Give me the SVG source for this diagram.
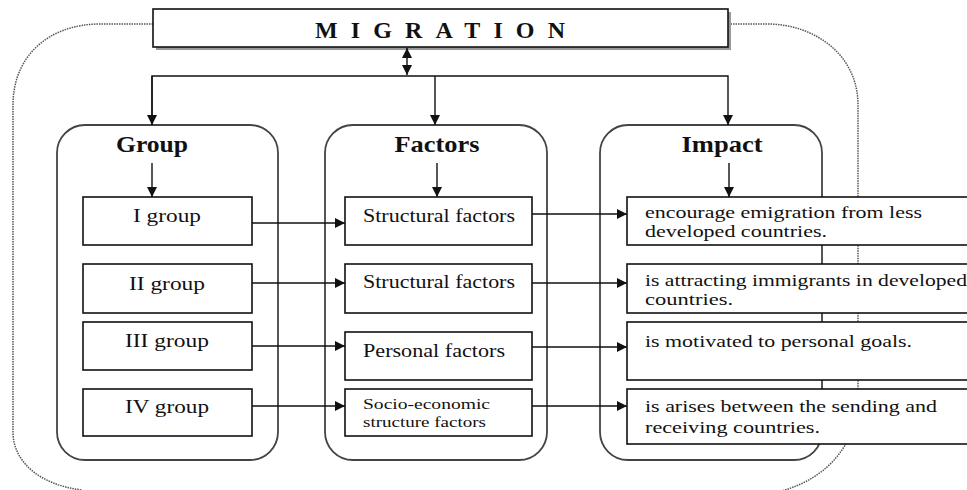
<svg xmlns="http://www.w3.org/2000/svg" width="967" height="490" viewBox="0 0 967 490">
<style>
  .outer { fill: none; stroke: #555; stroke-width: 1.5; stroke-dasharray: 1.5 1; }
  .cont { fill: #fff; stroke: #444; stroke-width: 1.8; }
  .box { fill: #fff; stroke: #111; stroke-width: 1.6; }
  .conn { fill: none; stroke: #111; stroke-width: 1.4; }
  .title { font-family: "Liberation Serif", "Times New Roman", serif; font-weight: bold; font-size: 24px; fill: #111; text-anchor: middle; }
  .lbl { font-family: "Liberation Serif", "Times New Roman", serif; font-size: 18px; fill: #111; }
  .imp { font-family: "Liberation Serif", "Times New Roman", serif; font-size: 16.5px; fill: #111; }
  .small { font-family: "Liberation Serif", "Times New Roman", serif; font-size: 15px; fill: #111; }
</style>
<defs>
  <marker id="ah" viewBox="0 0 10 10" refX="10" refY="5" markerWidth="10" markerHeight="10" markerUnits="userSpaceOnUse" orient="auto">
    <path d="M0,0 L10,5 L0,10 Z" fill="#111"/>
  </marker>
  <marker id="ahs" viewBox="0 0 10 10" refX="10" refY="5" markerWidth="10" markerHeight="10" markerUnits="userSpaceOnUse" orient="auto-start-reverse">
    <path d="M0,0 L10,5 L0,10 Z" fill="#111"/>
  </marker>
</defs>
<rect width="967" height="490" fill="#fff"/>

<g id="outer-boundary">
  <path class="outer" d="M153,24 H100 C50,24 13,55 13,105 V432 C13,462 40,485 82,490"/>
  <path class="outer" d="M728,24 H767 C815,24 858,55 858,105 V395 C858,440 832,478 778,492"/>
</g>

<g id="migration">
  <rect x="156" y="12" width="575" height="38" fill="#999"/>
  <rect class="box" x="153" y="9" width="575" height="38"/>
  <text class="title" x="440" y="38" font-size="23" textLength="250" lengthAdjust="spacing">MIGRATION</text>
</g>

<g id="group-container">
  <rect class="cont" x="57" y="125" width="221" height="335" rx="28"/>
  <text class="title" x="152" y="152" textLength="72" lengthAdjust="spacingAndGlyphs">Group</text>
</g>
<g id="factors-container">
  <rect class="cont" x="325" y="125" width="222" height="335" rx="28"/>
  <text class="title" x="437" y="152" textLength="85" lengthAdjust="spacingAndGlyphs">Factors</text>
</g>
<g id="impact-container">
  <rect class="cont" x="600" y="125" width="222" height="335" rx="28"/>
  <text class="title" x="722" y="152" textLength="81" lengthAdjust="spacingAndGlyphs">Impact</text>
</g>

<g id="group-1">
  <rect class="box" x="83" y="197" width="169" height="48"/>
  <text class="lbl" x="133" y="222" textLength="68" lengthAdjust="spacingAndGlyphs">I group</text>
</g>
<g id="group-2">
  <rect class="box" x="83" y="264" width="169" height="49"/>
  <text class="lbl" x="129" y="290" textLength="76" lengthAdjust="spacingAndGlyphs">II group</text>
</g>
<g id="group-3">
  <rect class="box" x="83" y="322" width="169" height="48"/>
  <text class="lbl" x="125" y="347" textLength="84" lengthAdjust="spacingAndGlyphs">III group</text>
</g>
<g id="group-4">
  <rect class="box" x="83" y="389" width="169" height="47"/>
  <text class="lbl" x="125" y="413" textLength="84" lengthAdjust="spacingAndGlyphs">IV group</text>
</g>

<g id="factor-1">
  <rect class="box" x="345" y="197" width="187" height="48"/>
  <text class="lbl" x="363" y="222" textLength="152" lengthAdjust="spacingAndGlyphs">Structural factors</text>
</g>
<g id="factor-2">
  <rect class="box" x="345" y="264" width="187" height="49"/>
  <text class="lbl" x="363" y="288" textLength="152" lengthAdjust="spacingAndGlyphs">Structural factors</text>
</g>
<g id="factor-3">
  <rect class="box" x="345" y="332" width="187" height="48"/>
  <text class="lbl" x="363" y="357" textLength="142" lengthAdjust="spacingAndGlyphs">Personal factors</text>
</g>
<g id="factor-4">
  <rect class="box" x="345" y="389" width="187" height="47"/>
  <text class="small" x="363" y="409" textLength="127" lengthAdjust="spacingAndGlyphs">Socio-economic</text>
  <text class="small" x="363" y="427" textLength="123" lengthAdjust="spacingAndGlyphs">structure factors</text>
</g>

<g id="impact-1">
  <rect class="box" x="627" y="197" width="345" height="48"/>
  <text class="imp" x="645" y="218" textLength="277" lengthAdjust="spacingAndGlyphs">encourage emigration from less</text>
  <text class="imp" x="645" y="237" textLength="182" lengthAdjust="spacingAndGlyphs">developed countries.</text>
</g>
<g id="impact-2">
  <rect class="box" x="627" y="264" width="345" height="49"/>
  <text class="imp" x="645" y="286" textLength="322" lengthAdjust="spacingAndGlyphs">is attracting immigrants in developed</text>
  <text class="imp" x="645" y="305" textLength="88" lengthAdjust="spacingAndGlyphs">countries.</text>
</g>
<g id="impact-3">
  <rect class="box" x="627" y="322" width="345" height="58"/>
  <text class="imp" x="645" y="347" textLength="267" lengthAdjust="spacingAndGlyphs">is motivated to personal goals.</text>
</g>
<g id="impact-4">
  <rect class="box" x="627" y="389" width="345" height="55"/>
  <text class="imp" x="645" y="412" textLength="292" lengthAdjust="spacingAndGlyphs">is arises between the sending and</text>
  <text class="imp" x="645" y="433" textLength="175" lengthAdjust="spacingAndGlyphs">receiving countries.</text>
</g>

<g id="connectors">
  <line class="conn" x1="407" y1="48" x2="407" y2="75" marker-start="url(#ahs)" marker-end="url(#ahs)"/>
  <polyline class="conn" points="152,125 152,76 728,76 728,125" marker-end="url(#ah)"/>
  <path class="conn" d="M152,76 V125" marker-end="url(#ah)"/>
  <path class="conn" d="M435,76 V125" marker-end="url(#ah)"/>
  <path class="conn" d="M152,163 V197" marker-end="url(#ah)"/>
  <path class="conn" d="M437,163 V197" marker-end="url(#ah)"/>
  <path class="conn" d="M729,163 V197" marker-end="url(#ah)"/>
  <path class="conn" d="M252,223 H345" marker-end="url(#ah)"/>
  <path class="conn" d="M252,283 H345" marker-end="url(#ah)"/>
  <path class="conn" d="M252,346 H345" marker-end="url(#ah)"/>
  <path class="conn" d="M252,406 H345" marker-end="url(#ah)"/>
  <path class="conn" d="M532,214 H627" marker-end="url(#ah)"/>
  <path class="conn" d="M532,283 H627" marker-end="url(#ah)"/>
  <path class="conn" d="M532,347 H627" marker-end="url(#ah)"/>
  <path class="conn" d="M532,406 H627" marker-end="url(#ah)"/>
</g>
</svg>
